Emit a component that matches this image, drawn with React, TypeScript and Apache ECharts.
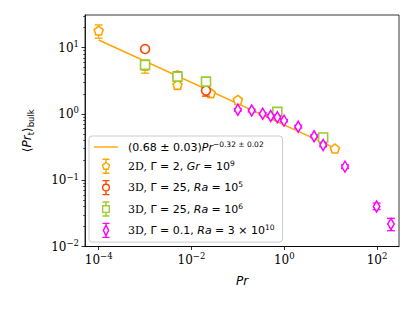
import React, { useEffect, useRef } from 'react';
import * as echarts from 'echarts';

// ---- data ----
const fitPr = [1e-4, 12.4];
const fitVal = [12.96, 0.304];

// 2D, Gamma = 2, Gr = 1e9 (orange pentagons)
const pr2D = [1e-4, 1e-3, 5e-3, 0.026, 0.1, 12.4];
const val2D = [18.0, 5.3, 2.73, 2.05, 1.62, 0.3];
const lo2D = [13.8, 4.1, 2.35, 1.92, 1.5, 0.29];
const hi2D = [21.9, 6.5, 3.17, 2.2, 1.75, 0.31];

// 3D, Gamma = 25, Ra = 1e5 (red circles)
const prRa5 = [1e-3, 5e-3, 0.0206];
const valRa5 = [9.5, 3.75, 2.24];
const loRa5 = [9.0, 3.25, 1.85];
const hiRa5 = [10.0, 4.33, 2.65];

// 3D, Gamma = 25, Ra = 1e6 (green squares)
const prRa6 = [1e-3, 5e-3, 0.0206, 0.71, 6.9];
const valRa6 = [5.47, 3.64, 3.06, 1.07, 0.44];
const loRa6 = [5.2, 3.45, 2.95, 1.03, 0.43];
const hiRa6 = [5.75, 3.85, 3.2, 1.11, 0.46];

// 3D, Gamma = 0.1, Ra = 3e10 (magenta diamonds)
const prRa10 = [0.1, 0.199, 0.343, 0.51, 0.71, 0.99, 2.0, 4.4, 6.9, 20.4, 98, 200];
const valRa10 = [1.15, 1.12, 1.0, 0.93, 0.89, 0.79, 0.64, 0.46, 0.34, 0.16, 0.04, 0.0218];
const loRa10 = [1.1, 1.07, 0.96, 0.89, 0.85, 0.76, 0.61, 0.44, 0.32, 0.15, 0.036, 0.0173];
const hiRa10 = [1.2, 1.17, 1.04, 0.97, 0.93, 0.82, 0.67, 0.48, 0.36, 0.17, 0.045, 0.0266];

const xMajorTicks = [-4, -2, 0, 2];
const yMajorTicks = [-2, -1, 0, 1];

const X_MIN = -4.295;
const X_MAX = 2.474;
const Y_MIN = -2;
const Y_MAX = 1.49;

const ORANGE = '#FFA500';
const RED = '#FF4500';
const GREEN = '#9ACD32';
const MAGENTA = '#FF00FF';

const legendLabels: Record<string, string> = {
  fit: '{m|(0.68 ± 0.03)}{i|Pr}{sup|−0.32 ± 0.02}',
  d2: '{r|2D, }{m|Γ = 2, }{i|Gr}{m| = 10}{sup|9}',
  d3a: '{r|3D, }{m|Γ = 25, }{i|Ra}{m| = 10}{sup|5}',
  d3b: '{r|3D, }{m|Γ = 25, }{i|Ra}{m| = 10}{sup|6}',
  d3c: '{r|3D, }{m|Γ = 0.1, }{i|Ra}{m| = 3 × 10}{sup|10}',
};

const L = Math.log10;

const PENT = 'path://M0,-1 L0.951,-0.309 L0.588,0.809 L-0.588,0.809 L-0.951,-0.309 Z';
const DIAM = 'path://M0,-1 L0.6,0 L0,1 L-0.6,0 Z';

const ICON_LINE = 'path://M0,6.3 L24,6.3 L24,7.7 L0,7.7 Z';
const ICON_PENT =
  'path://M1,0 L9,0 M5,0 L5,3.8 M5,3.8 L9,6.7 L7.47,11.4 L2.53,11.4 L1,6.7 Z M5,11.4 L5,16 M1,16 L9,16';
const ICON_CIRC =
  'path://M1,0 L9,0 M5,0 L5,4 M1.2,8 A3.8,3.8 0 1 0 8.8,8 A3.8,3.8 0 1 0 1.2,8 Z M5,12 L5,16 M1,16 L9,16';
const ICON_SQ =
  'path://M1,0 L9,0 M5,0 L5,4.2 M1.2,4.2 L8.8,4.2 L8.8,11.8 L1.2,11.8 Z M5,11.8 L5,16 M1,16 L9,16';
const ICON_DIA =
  'path://M1,0 L9,0 M5,0 L5,2 M5,2 L8,8 L5,14 L2,8 Z M5,14 L5,16 M1,16 L9,16';

function errSeries(prs: number[], los: number[], his: number[], color: string, z: number) {
  return {
    type: 'custom',
    silent: true,
    z,
    data: prs.map((p, i) => [L(p), L(los[i]), L(his[i])]),
    encode: { x: 0, y: [1, 2] },
    renderItem: (_params: any, api: any) => {
      const x = api.value(0);
      const lo = api.coord([x, api.value(1)]);
      const hi = api.coord([x, api.value(2)]);
      const cw = 4;
      const st = { stroke: color, lineWidth: 1.3 };
      return {
        type: 'group',
        children: [
          { type: 'line', shape: { x1: lo[0], y1: lo[1], x2: hi[0], y2: hi[1] }, style: st },
          { type: 'line', shape: { x1: hi[0] - cw, y1: hi[1], x2: hi[0] + cw, y2: hi[1] }, style: st },
          { type: 'line', shape: { x1: lo[0] - cw, y1: lo[1], x2: lo[0] + cw, y2: lo[1] }, style: st },
        ],
      };
    },
  };
}

function scatterSeries(name: string, prs: number[], vals: number[], color: string, symbol: string, size: any, z: number) {
  return {
    type: 'scatter',
    name,
    z,
    symbol,
    symbolSize: size,
    data: prs.map((p, i) => [L(p), L(vals[i])]),
    itemStyle: { color: '#ffffff', borderColor: color, borderWidth: 1.6, opacity: 1 },
    emphasis: { disabled: true },
  };
}

function powLabel(v: number) {
  const e = Math.round(v);
  const s = e < 0 ? '−' + Math.abs(e) : String(e);
  return '{b|10}{s|' + s + '}';
}

const tickRich = {
  b: { fontFamily: 'DejaVu Serif', fontSize: 12, lineHeight: 16, color: '#000' },
  s: { fontFamily: 'DejaVu Serif', fontSize: 8.5, lineHeight: 8, verticalAlign: 'top', color: '#000' },
};

export default function App() {
  const ref = useRef<HTMLDivElement>(null);
  useEffect(() => {
    if (!ref.current) return;
    const chart = echarts.init(ref.current, undefined, { renderer: 'svg' });

    const yMinor: number[] = [];
    for (let n = -2; n <= 1; n++) {
      for (let k = 2; k <= 9; k++) {
        const v = n + L(k);
        if (v <= Y_MAX) yMinor.push(v);
      }
    }

    const axisLineStyle = { color: '#000', width: 0.8 };

    chart.setOption({
      animation: false,
      grid: { left: 85, right: 16, top: 15, bottom: 65.5, show: true, borderColor: '#000', borderWidth: 0.8, backgroundColor: 'transparent' },
      xAxis: {
        type: 'value',
        min: X_MIN,
        max: X_MAX,
        axisLine: { show: true, onZero: false, lineStyle: axisLineStyle },
        axisTick: { show: true, length: 3.5, lineStyle: axisLineStyle, customValues: xMajorTicks },
        axisLabel: { customValues: xMajorTicks, formatter: powLabel, rich: tickRich, margin: 5 },
        splitLine: { show: false },
        name: 'Pr',
        nameLocation: 'middle',
        nameGap: 28,
        nameTextStyle: { fontFamily: 'DejaVu Sans', fontStyle: 'italic', fontSize: 12, color: '#000' },
      },
      yAxis: [
        {
          type: 'value',
          min: Y_MIN,
          max: Y_MAX,
          position: 'left',
          axisLine: { show: true, onZero: false, lineStyle: axisLineStyle },
          axisTick: { show: true, length: 3.5, lineStyle: axisLineStyle, customValues: yMajorTicks },
          axisLabel: { customValues: yMajorTicks, formatter: powLabel, rich: tickRich, margin: 6 },
          splitLine: { show: false },
          name: '{m|⟨}{i|Pr}{sub|t}{m|⟩}{sub|bulk}',
          nameLocation: 'middle',
          nameRotate: 90,
          nameGap: 50,
          nameTextStyle: {
            rich: {
              m: { fontFamily: 'DejaVu Sans', fontSize: 12, lineHeight: 16, color: '#000' },
              i: { fontFamily: 'DejaVu Sans', fontStyle: 'italic', fontSize: 12, lineHeight: 16, color: '#000' },
              sub: { fontFamily: 'DejaVu Sans', fontSize: 8.5, lineHeight: 9, verticalAlign: 'bottom', color: '#000' },
            },
          },
        },
        {
          type: 'value',
          min: Y_MIN,
          max: Y_MAX,
          position: 'left',
          axisLine: { show: false, onZero: false },
          axisTick: { show: true, length: 2, lineStyle: { color: '#000', width: 0.6 }, customValues: yMinor },
          axisLabel: { show: false },
          splitLine: { show: false },
        },
      ],
      legend: {
        orient: 'vertical',
        left: 89,
        top: 136,
        itemWidth: 24,
        itemHeight: 14,
        itemGap: 6,
        padding: [4, 8, 4, 5],
        backgroundColor: 'rgba(255,255,255,0.85)',
        borderColor: '#cccccc',
        borderWidth: 1,
        borderRadius: 3,
        selectedMode: false,
        data: [
          { name: 'fit', icon: ICON_LINE, itemStyle: { color: ORANGE, borderWidth: 0 } },
          { name: 'd2', icon: ICON_PENT, itemStyle: { color: '#fff', borderColor: ORANGE, borderWidth: 1.4 } },
          { name: 'd3a', icon: ICON_CIRC, itemStyle: { color: '#fff', borderColor: RED, borderWidth: 1.4 } },
          { name: 'd3b', icon: ICON_SQ, itemStyle: { color: '#fff', borderColor: GREEN, borderWidth: 1.4 } },
          { name: 'd3c', icon: ICON_DIA, itemStyle: { color: '#fff', borderColor: MAGENTA, borderWidth: 1.4 } },
        ],
        formatter: (name: string) => legendLabels[name] || name,
        textStyle: {
          padding: [0, 0, 0, 5],
          rich: {
            r: { fontFamily: 'DejaVu Serif', fontSize: 11, lineHeight: 14, color: '#000' },
            m: { fontFamily: 'DejaVu Sans', fontSize: 11, lineHeight: 14, color: '#000' },
            i: { fontFamily: 'DejaVu Sans', fontStyle: 'italic', fontSize: 11, lineHeight: 14, color: '#000' },
            sup: { fontFamily: 'DejaVu Sans', fontSize: 7.5, lineHeight: 7, verticalAlign: 'top', color: '#000' },
          },
        },
      },
      series: [
        {
          type: 'line',
          name: 'fit',
          z: 1,
          data: fitPr.map((p, i) => [L(p), L(fitVal[i])]),
          symbol: 'none',
          showSymbol: false,
          lineStyle: { color: ORANGE, width: 1.5 },
          itemStyle: { color: ORANGE },
          emphasis: { disabled: true },
        },
        errSeries(pr2D, lo2D, hi2D, ORANGE, 2),
        scatterSeries('d2', pr2D, val2D, ORANGE, PENT, 9, 3),
        errSeries(prRa5, loRa5, hiRa5, RED, 4),
        scatterSeries('d3a', prRa5, valRa5, RED, 'circle', 9, 5),
        errSeries(prRa6, loRa6, hiRa6, GREEN, 6),
        scatterSeries('d3b', prRa6, valRa6, GREEN, 'rect', 9, 7),
        errSeries(prRa10, loRa10, hiRa10, MAGENTA, 8),
        scatterSeries('d3c', prRa10, valRa10, MAGENTA, DIAM, [6.5, 11], 9),
      ],
    });

    return () => {
      chart.dispose();
    };
  }, []);

  return <div ref={ref} style={{ position: 'absolute', left: 0, top: 0, width: 415, height: 312 }} />;
}
